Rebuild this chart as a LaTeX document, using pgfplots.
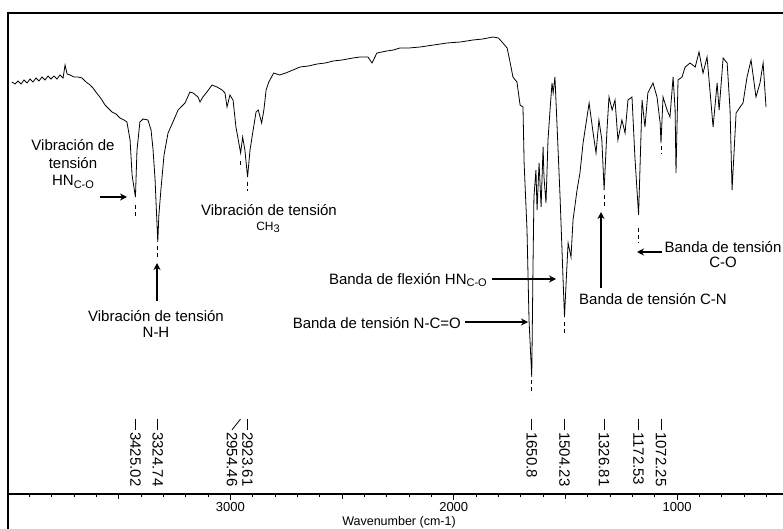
\documentclass[border=0pt]{standalone}
\usepackage{pgfplots}
\pgfplotsset{compat=1.18}
\usetikzlibrary{arrows.meta}
\usepackage{fontspec}
\setmainfont{Liberation Sans}
\newcommand{\sub}[1]{\raisebox{-0.35ex}{\fontsize{11}{11}\selectfont #1}}
\begin{document}
\begin{tikzpicture}
\useasboundingbox (0,0) rectangle (783pt,528pt);
\begin{axis}[
  at={(7pt,34pt)}, anchor=south west, scale only axis,
  width=776pt, height=481pt,
  xmin=526, xmax=4000, ymin=0, ymax=481,
  x dir=reverse,
  axis x line*=bottom, axis y line=none,
  xtick={1000,2000,3000}, xticklabels={1000,2000,3000},
  minor xtick={600,700,800,900,1100,1200,1300,1400,1600,1700,1800,1900,2100,2200,2300,2400,2600,2700,2800,2900,3100,3200,3300,3400,3600,3700,3800,3900},
  extra x ticks={1500,2500,3500}, extra x tick labels={},
  extra x tick style={major tick length=5pt},
  tick align=outside, major tick length=6pt, minor tick length=3pt,
  tick style={black, line width=0.9pt},
  x axis line style={line width=1.2pt, -},
  xticklabel style={font=\fontsize{13}{13}\selectfont, inner sep=2pt},
  clip=false,
]
\addplot[black, line width=0.8pt, mark=none] table {
3978 412
3964 410
3951 413
3937 410
3924 414
3910 411
3897 415
3884 412
3870 416
3857 413
3843 417
3830 414
3816 418
3803 415
3790 418
3776 415
3763 419
3749 416
3740 429
3731 420
3718 419
3700 417
3682 417
3664 416
3646 412
3628 409
3615 406
3602 402
3588 398
3575 394
3561 389
3548 386
3530 382
3512 380
3494 376
3476 374
3463 372
3449 354
3440 319
3425 297
3418 344
3405 372
3391 375
3369 374
3355 364
3346 344
3337 314
3325 252
3320 279
3311 304
3297 339
3279 361
3261 370
3234 384
3203 391
3181 402
3167 401
3145 397
3136 392
3123 397
3105 402
3082 409
3060 407
3037 404
3024 401
3015 387
3002 399
2988 394
2975 367
2954 341
2945 357
2935 344
2923 317
2912 344
2898 364
2885 382
2875 384
2860 371
2850 384
2840 404
2828 412
2806 421
2780 419
2752 421
2720 424
2688 427
2650 428
2612 430
2575 431
2540 433
2500 434
2451 436
2420 437
2384 437
2366 431
2344 441
2300 443
2270 444
2241 446
2200 446
2151 447
2090 449
2030 451
1970 452
1914 454
1870 455
1825 457
1800 456
1784 452
1761 446
1748 432
1735 417
1717 412
1703 389
1690 387
1685 331
1672 264
1663 174
1650.8 117
1645 231
1641 297
1632 324
1627 284
1618 331
1609 287
1600 347
1596 317
1587 291
1578 354
1569 384
1560 411
1555 401
1547 417
1538 371
1524 297
1511 217
1504.23 177
1497 211
1488 251
1475 237
1466 274
1448 304
1435 321
1421 351
1394 391
1376 361
1363 341
1350 374
1337 354
1326.81 304
1314 364
1305 397
1291 384
1278 394
1265 354
1247 374
1233 361
1220 394
1202 397
1189 337
1172.53 279
1157 394
1144 367
1131 401
1108 411
1090 397
1076 371
1072.25 351
1063 397
1045 384
1032 377
1018 417
1009 384
1005 321
996 414
978 417
964 427
942 431
919 427
902 442
884 421
866 437
852 401
839 367
821 411
812 384
794 436
776 431
763 384
754 304
736 381
718 387
705 391
687 417
669 434
647 397
629 411
615 431
602 387
};
% dashed peak markers
\draw[black, line width=0.7pt, dash pattern=on 4pt off 3pt] (axis cs:3425.02,289) -- (axis cs:3425.02,276);
\draw[black, line width=0.7pt, dash pattern=on 4pt off 3pt] (axis cs:3324.74,248) -- (axis cs:3324.74,235);
\draw[black, line width=0.7pt, dash pattern=on 4pt off 3pt] (axis cs:2954.46,333) -- (axis cs:2954.46,326);
\draw[black, line width=0.7pt, dash pattern=on 4pt off 3pt] (axis cs:2923.61,312) -- (axis cs:2923.61,303);
\draw[black, line width=0.7pt, dash pattern=on 4pt off 3pt] (axis cs:1650.8,114) -- (axis cs:1650.8,100);
\draw[black, line width=0.7pt, dash pattern=on 4pt off 3pt] (axis cs:1504.23,172) -- (axis cs:1504.23,160);
\draw[black, line width=0.7pt, dash pattern=on 4pt off 3pt] (axis cs:1326.81,299) -- (axis cs:1326.81,287);
\draw[black, line width=0.7pt, dash pattern=on 4pt off 3pt] (axis cs:1172.53,266) -- (axis cs:1172.53,251);
\draw[black, line width=0.7pt, dash pattern=on 4pt off 3pt] (axis cs:1072.25,348) -- (axis cs:1072.25,340);
% peak labels
\pgfplotsinvokeforeach{3425.02,3324.74,2923.61,1650.8,1504.23,1326.81,1172.53,1072.25}{
  \draw[black, line width=0.8pt] (axis cs:#1,75) -- (axis cs:#1,64);
  \node[rotate=-90, anchor=west, inner sep=0pt, font=\fontsize{15}{15}\selectfont] at (axis cs:#1,62) {#1};
}
\draw[black, line width=0.8pt] (axis cs:2954.46,75) -- (axis cs:2993,64);
\node[rotate=-90, anchor=west, inner sep=0pt, font=\fontsize{15}{15}\selectfont] at (axis cs:2993,62) {2954.46};
\end{axis}
\begin{scope}[x=1pt, y=-1pt, yshift=528pt]
\draw[black, line width=2pt] (8,530) -- (8,13) -- (785,13);
\tikzset{ann/.style={font=\fontsize{15}{17}\selectfont, inner sep=0pt, align=center},
         arr/.style={-{Stealth[length=7pt,width=7pt]}, line width=1.6pt}}
\node[ann, font=\fontsize{15}{17.5}\selectfont] at (73,164) {Vibración de\\tensión\\HN\sub{C-O}};
\draw[arr] (100,197) -- (127,197);
\node[ann, font=\fontsize{15}{16.5}\selectfont] at (156,324) {Vibración de tensión\\N-H};
\draw[arr] (157,301) -- (157,263);
\node[ann] at (269,210) {Vibración de tensión};
\node[ann, font=\fontsize{12}{12}\selectfont] at (268,227) {CH\sub{3}};
\node[ann, font=\fontsize{15}{15}\selectfont] at (723,255) {Banda de tensión\\C-O};
\draw[arr] (662,252) -- (637,252);
\node[ann, anchor=east] at (487,280) {Banda de flexión HN\sub{C-O}};
\draw[arr] (492,279) -- (556,279);
\node[ann, anchor=east] at (461,323) {Banda de tensión N-C=O};
\draw[arr] (465,322) -- (528,322);
\node[ann, anchor=west] at (579,299) {Banda de tensión C-N};
\draw[arr] (601,288) -- (601,212);
\node[font=\fontsize{12.5}{12.5}\selectfont, inner sep=0pt] at (399,522) {Wavenumber (cm-1)};
\end{scope}
\end{tikzpicture}
\end{document}
